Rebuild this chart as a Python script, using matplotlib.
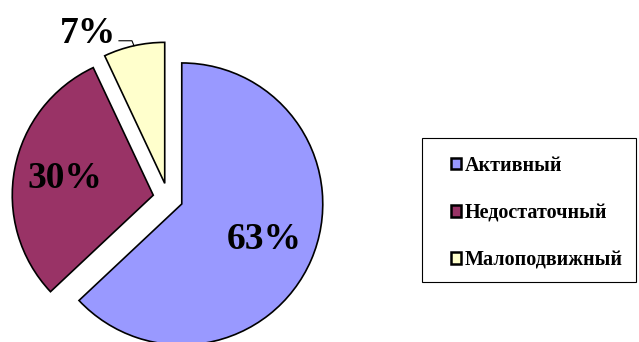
import numpy as np
import matplotlib
matplotlib.use('Agg')
import matplotlib.pyplot as plt
from matplotlib.patches import Rectangle

# activity groups and their shares, %
categories = ['Активный', 'Недостаточный', 'Малоподвижный']
shares = [63, 30, 7]
colours = ['#9999FF', '#993366', '#FFFFCC']

plt.rcParams['font.family'] = ['Liberation Serif', 'DejaVu Serif']
plt.rcParams['font.weight'] = 'bold'

W, H = 639, 342
fig = plt.figure(figsize=(W / 100, H / 100), dpi=100)
ax = fig.add_axes([0, 0, 1, 1])

R = 141
centre = (168, 144)
# explode is in data units here (pixels)
wedges, texts = ax.pie(shares, colors=colours, startangle=90, counterclock=False,
                       radius=R, center=centre, explode=[15] * len(shares),
                       wedgeprops=dict(edgecolor='black', linewidth=1.2))
ax.set_xlim(0, W)
ax.set_ylim(0, H)
ax.set_aspect('equal')
ax.axis('off')

for w, v in zip(wedges, shares):
    mid = np.deg2rad((w.theta1 + w.theta2) / 2)
    cx, cy = w.center
    if v >= 10:
        ax.text(cx + 0.64 * R * np.cos(mid), cy + 0.64 * R * np.sin(mid), '%d%%' % v,
                ha='center', va='center', fontsize=27, fontweight='bold')
    else:
        # small slice: label outside with a leader line
        px, py = cx + R * np.cos(mid), cy + R * np.sin(mid)
        ax.plot([px, px - 2, px - 15], [py, py + 5, py + 5], color='black', lw=0.8)
        ax.text(px - 18, py + 12, '%d%%' % v, ha='right', va='center',
                fontsize=27, fontweight='bold')

# legend frame drawn separately so the padding can differ per side
ax.add_patch(Rectangle((422, 60), 214, 144, facecolor='white', edgecolor='black',
                       linewidth=0.8, zorder=3))
leg = ax.legend(wedges, categories, loc='center left',
                bbox_to_anchor=(451 / W, 129 / H), bbox_transform=fig.transFigure,
                frameon=False, handlelength=0.5, handleheight=0.5, handletextpad=0.2,
                labelspacing=1.35, borderpad=0, borderaxespad=0,
                prop=dict(family='Liberation Serif', weight='bold', size=14.5))
leg.set_zorder(4)
for h in leg.legend_handles:
    h.set_linewidth(1.8)

fig.savefig('out.png', dpi=100)
